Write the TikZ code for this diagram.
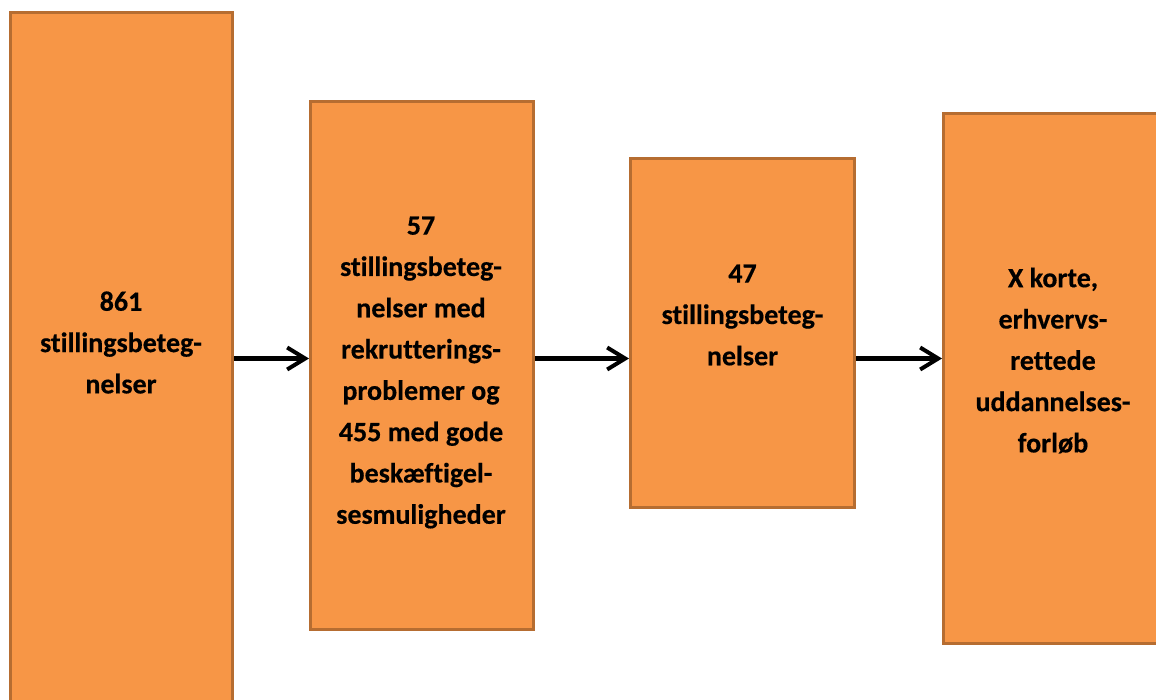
\documentclass[tikz,border=0pt]{standalone}
\usepackage{fontspec}
\setmainfont{Carlito}[Ligatures=NoCommon,BoldFeatures={FakeBold=0.4}]
\usetikzlibrary{arrows.meta}
\definecolor{boxfill}{HTML}{F79646}
\definecolor{boxline}{HTML}{B66D31}
\begin{document}
\begin{tikzpicture}[x=1pt,y=-1pt,
  stage/.style={draw=boxline,fill=boxfill,line width=3pt,rectangle,inner sep=0pt},
  label text/.style={align=center,inner sep=0pt,font=\fontsize{28}{41.3}\selectfont\bfseries},
  flow/.style={line width=4.5pt,-{Straight Barb[length=18pt,width=22pt,line width=4pt]}}]
\useasboundingbox (0,0) rectangle (1156,699);
\clip (0,0) rectangle (1156,699);
\node[stage,minimum width=222pt,minimum height=707.5pt] (b1) at (121.5,366.25) {};
\node[stage,minimum width=223pt,minimum height=528pt] (b2) at (422,365.5) {};
\node[stage,minimum width=224pt,minimum height=349pt] (b3) at (742.5,333) {};
\node[stage,minimum width=222pt,minimum height=530pt] (b4) at (1054.5,378.5) {};
\node[label text] (t1) at (121,342.5) {861\\stillingsbeteg-\\nelser};
\node[label text] (t2) at (421,372.5) {57\\stillingsbeteg-\\nelser med\\rekrutterings-\\problemer og\\455 med gode\\beskæftigel-\\sesmuligheder};
\node[label text] (t3) at (742.5,315) {47\\stillingsbeteg-\\nelser};
\node[label text] (t4) at (1053,360.5) {X korte,\\erhvervs-\\rettede\\uddannelses-\\forløb};
\coordinate (y0) at (0,358.5);
\draw[flow] (b1.east |- y0) -- (b2.west |- y0);
\draw[flow] (b2.east |- y0) -- (b3.west |- y0);
\draw[flow] (b3.east |- y0) -- (b4.west |- y0);
\end{tikzpicture}
\end{document}
